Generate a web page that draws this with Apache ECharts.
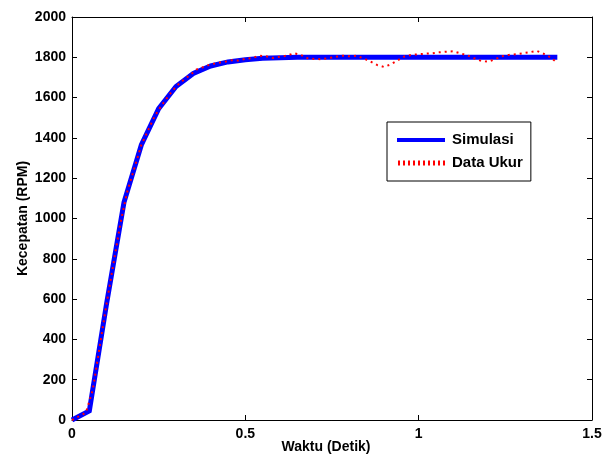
<!DOCTYPE html>
<html>
<head>
<meta charset="utf-8">
<script src="https://cdn.jsdelivr.net/npm/echarts@6/dist/echarts.min.js"></script>
<style>
  html, body { margin: 0; padding: 0; background: #fff; }
  #chart { width: 608px; height: 457px; }
</style>
</head>
<body>
<div id="chart"></div>
<script>
// Simulated speed response, sampled every 0.05 s
const simTime = [0, 0.05, 0.1, 0.15, 0.2, 0.25, 0.3, 0.35, 0.4, 0.45, 0.5, 0.55, 0.6, 0.65,
  0.7, 0.75, 0.8, 0.85, 0.9, 0.95, 1.0, 1.05, 1.1, 1.15, 1.2, 1.25, 1.3, 1.35, 1.4];
const simRpm = [0, 45, 580, 1080, 1365, 1545, 1655, 1720, 1757, 1777, 1788, 1795, 1798, 1800,
  1800, 1800, 1800, 1800, 1800, 1800, 1800, 1800, 1800, 1800, 1800, 1800, 1800, 1800, 1800];

// Measured speed, sampled every 0.02 s
const measTime = [0, 0.02, 0.04, 0.06, 0.08, 0.1, 0.12, 0.14, 0.16, 0.18, 0.2, 0.22, 0.24, 0.26,
  0.28, 0.3, 0.32, 0.34, 0.36, 0.38, 0.4, 0.42, 0.44, 0.46, 0.48, 0.5, 0.52, 0.54, 0.56, 0.58,
  0.6, 0.62, 0.64, 0.66, 0.68, 0.7, 0.72, 0.74, 0.76, 0.78, 0.8, 0.82, 0.84, 0.86, 0.88, 0.9,
  0.92, 0.94, 0.96, 0.98, 1.0, 1.02, 1.04, 1.06, 1.08, 1.1, 1.12, 1.14, 1.16, 1.18, 1.2, 1.22,
  1.24, 1.26, 1.28, 1.3, 1.32, 1.34, 1.36, 1.38, 1.4];
const measRpm = [0, 18, 36, 150, 365, 580, 780, 980, 1137, 1250, 1365, 1440, 1512, 1565,
  1612, 1655, 1685, 1712, 1740, 1752, 1765, 1772, 1778, 1785, 1784, 1792, 1796, 1808, 1805, 1797,
  1803, 1808, 1820, 1812, 1795, 1792, 1790, 1796, 1802, 1808, 1805, 1808, 1795, 1780, 1762, 1752,
  1765, 1785, 1805, 1812, 1815, 1818, 1820, 1825, 1828, 1830, 1820, 1810, 1795, 1782, 1778, 1790,
  1805, 1812, 1815, 1820, 1825, 1832, 1818, 1800, 1772];

const xTicks = [0, 0.5, 1, 1.5];
const yTicks = [0, 200, 400, 600, 800, 1000, 1200, 1400, 1600, 1800, 2000];

const pair = (xs, ys) => xs.map((x, i) => [x, ys[i]]);

const fontFamily = '"Liberation Sans", Arial, sans-serif';
const labelStyle = { color: '#000', fontWeight: 'bold', fontSize: 14, fontFamily: fontFamily };
const axisLineStyle = { show: true, onZero: false, lineStyle: { color: '#000', width: 1 } };
const tickStyle = { show: true, inside: true, length: 5, lineStyle: { color: '#000', width: 1 } };

// Legend icons: a solid bar and a row of short red dashes (extra zero-length moves keep the height)
const solidIcon = 'path://M0 0L0.01 0M0 16L0.01 16M0 6H48V10H0Z';
let dotted = 'path://M0 0L0.01 0M0 16L0.01 16';
for (let x = 1; x < 48; x += 5) dotted += 'M' + x + ' 5.5H' + (x + 2) + 'V10.5H' + x + 'Z';
const dottedIcon = dotted;

const chart = echarts.init(document.getElementById('chart'), null, { renderer: 'canvas' });

chart.setOption({
  animation: false,
  backgroundColor: '#fff',
  grid: { left: 72, right: 16, top: 17, bottom: 37, containLabel: false, outerBoundsMode: 'none' },
  legend: {
    orient: 'vertical',
    left: 387,
    top: 122,
    padding: [10, 8, 10, 10],
    itemGap: 7,
    itemWidth: 48,
    itemHeight: 16,
    backgroundColor: '#fff',
    borderColor: '#000',
    borderWidth: 1,
    borderRadius: 0,
    textStyle: { color: '#000', fontWeight: 'bold', fontSize: 15, fontFamily: fontFamily, padding: [0, 0, 0, 2] },
    data: [
      { name: 'Simulasi', icon: solidIcon, itemStyle: { color: '#0000ff' } },
      { name: 'Data Ukur', icon: dottedIcon, itemStyle: { color: '#ff0000' } }
    ]
  },
  xAxis: [
    {
      type: 'value', min: 0, max: 1.5, interval: 0.5,
      name: 'Waktu (Detik)', nameLocation: 'middle', nameGap: 20, nameMoveOverlap: false,
      nameTextStyle: Object.assign({ padding: [0, 12, 0, 0] }, labelStyle),
      axisLine: axisLineStyle, axisTick: tickStyle,
      axisLabel: Object.assign({ margin: 7, formatter: v => xTicks.includes(v) ? String(v) : '' }, labelStyle),
      splitLine: { show: false }
    },
    {
      type: 'value', min: 0, max: 1.5, interval: 0.5, position: 'top',
      axisLine: axisLineStyle, axisTick: tickStyle, axisLabel: { show: false }, splitLine: { show: false }
    }
  ],
  yAxis: [
    {
      type: 'value', min: 0, max: 2000, interval: 200,
      name: 'Kecepatan (RPM)', nameLocation: 'middle', nameGap: 42, nameMoveOverlap: false,
      nameTextStyle: labelStyle,
      axisLine: axisLineStyle, axisTick: tickStyle,
      axisLabel: Object.assign({ margin: 6, formatter: v => yTicks.includes(v) ? String(v) : '' }, labelStyle),
      splitLine: { show: false }
    },
    {
      type: 'value', min: 0, max: 2000, interval: 200, position: 'right',
      axisLine: axisLineStyle, axisTick: tickStyle, axisLabel: { show: false }, splitLine: { show: false }
    }
  ],
  series: [
    {
      name: 'Simulasi', type: 'line', data: pair(simTime, simRpm),
      showSymbol: false, symbol: 'none', smooth: false,
      lineStyle: { color: '#0000ff', width: 5, join: 'miter' },
      itemStyle: { color: '#0000ff' },
      z: 2
    },
    {
      name: 'Data Ukur', type: 'line', data: pair(measTime, measRpm),
      showSymbol: false, symbol: 'none', smooth: false,
      lineStyle: { color: '#ff0000', width: 2, type: [2, 4] },
      itemStyle: { color: '#ff0000' },
      z: 3
    }
  ]
});
</script>
</body>
</html>
